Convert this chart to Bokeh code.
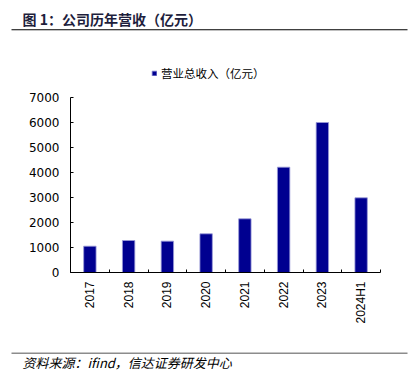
from bokeh.plotting import figure
from bokeh.models import (Range1d, FixedTicker, Legend, LegendItem, Label, BoxAnnotation)
from bokeh.embed import file_html
from bokeh.resources import INLINE

categories = ["2017", "2018", "2019", "2020", "2021", "2022", "2023", "2024H1"]
revenue = [1053, 1280, 1255, 1547, 2147, 4213, 6000, 2987]
y_ticks = [0, 1000, 2000, 3000, 4000, 5000, 6000, 7000]

title_text = "图 1：公司历年营收（亿元）"
legend_text = "营业总收入（亿元）"
source_text = "资料来源：ifind，信达证券研发中心"

CJK = "Noto Sans CJK SC"
W, H = 418, 387

# plot area in canvas pixels (the frame covers the whole canvas)
AX_L, AX_R, AX_T, AX_B = 70, 380, 97, 272
n = len(categories)
ymax = y_ticks[-1]
xpx = (AX_R - AX_L) / n
ypx = (AX_B - AX_T) / ymax
x_range = Range1d(-AX_L / xpx, n + (W - AX_R) / xpx)
y_range = Range1d(-(H - AX_B) / ypx, ymax + AX_T / ypx)

p = figure(width=W, height=H, output_backend="svg", toolbar_location=None,
           x_range=x_range, y_range=y_range,
           min_border=0, min_border_left=0, min_border_right=0,
           min_border_top=0, min_border_bottom=0)
p.outline_line_color = None
p.grid.visible = False
p.background_fill_color = "white"
p.border_fill_color = "white"

xs = [i + 0.5 for i in range(n)]
r = p.vbar(x=xs, top=revenue, width=0.32, fill_color="#000090", line_color="#9a9ad8", line_width=0.8)

xa = p.xaxis[0]
xa.fixed_location = 0
xa.bounds = (0, n)
xa.ticker = FixedTicker(ticks=xs, minor_ticks=list(range(n + 1)))
xa.major_label_overrides = {x: c for x, c in zip(xs, categories)}
xa.major_tick_in = 0
xa.major_tick_out = 0
xa.minor_tick_in = 3
xa.minor_tick_out = 0
xa.minor_tick_line_color = "#000000"
xa.axis_line_color = "#000000"
xa.major_label_orientation = 1.5708
xa.major_label_standoff = 9
xa.major_label_text_font = "Liberation Sans"
xa.major_label_text_font_size = "12px"
xa.major_label_text_color = "#000000"

ya = p.yaxis[0]
ya.fixed_location = 0
ya.bounds = (0, ymax)
ya.ticker = FixedTicker(ticks=y_ticks)
ya.major_tick_in = 3
ya.major_tick_out = 0
ya.minor_tick_line_color = None
ya.axis_line_color = "#000000"
ya.major_tick_line_color = "#000000"
ya.major_label_standoff = 11
ya.major_label_text_font = "DejaVu Sans"
ya.major_label_text_font_size = "12px"
ya.major_label_text_color = "#000000"

legend = Legend(items=[LegendItem(label=legend_text, renderers=[r])], location=(151, 306),
                orientation="horizontal", padding=0, margin=0, spacing=0,
                glyph_width=6, glyph_height=6, label_standoff=4,
                label_text_font=CJK, label_text_font_size="11.5px", label_text_color="#000000",
                border_line_color=None, background_fill_alpha=0)
p.add_layout(legend)

# header
p.add_layout(Label(x=22, y=H - 18, x_units="screen", y_units="screen", text=title_text,
                   text_font=CJK, text_font_size="14px", text_font_style="bold",
                   text_color="#1e1e3c", text_baseline="middle"))
p.add_layout(BoxAnnotation(left=11, right=407, bottom=H - 29.8, top=H - 28.8,
                           left_units="screen", right_units="screen",
                           bottom_units="screen", top_units="screen",
                           fill_color="#000000", fill_alpha=1, line_color=None))
# footer
p.add_layout(BoxAnnotation(left=11, right=407, bottom=H - 353.5, top=H - 352,
                           left_units="screen", right_units="screen",
                           bottom_units="screen", top_units="screen",
                           fill_color="#8c8c8c", fill_alpha=1, line_color=None))
p.add_layout(Label(x=22, y=H - 361.5, x_units="screen", y_units="screen", text=source_text,
                   text_font=CJK, text_font_size="13px", text_font_style="italic",
                   text_color="#000000", text_baseline="middle"))

open("out.html", "w").write(file_html(p, INLINE))
